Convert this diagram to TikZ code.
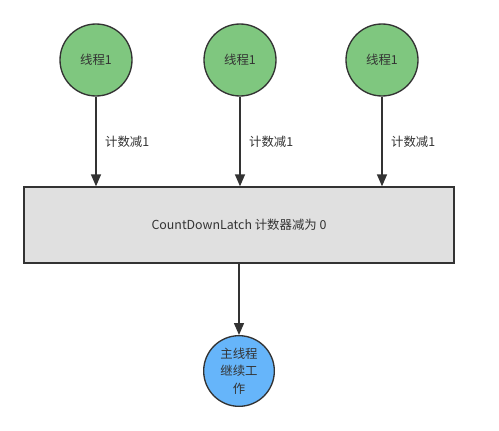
\documentclass[tikz,border=0pt]{standalone}
\usepackage{fontspec}
\setmainfont{Noto Sans CJK SC}
\usetikzlibrary{arrows.meta}
\definecolor{threadgreen}{HTML}{7FC77F}
\definecolor{mainblue}{HTML}{66B5FA}
\definecolor{latchgray}{HTML}{E0E0E0}
\definecolor{linegray}{HTML}{333333}

\begin{document}
\begin{tikzpicture}[x=0.75pt, y=-0.75pt, font=\fontsize{9.3}{13}\selectfont, >={Triangle[length=9pt,width=7.5pt]},
    thread/.style={circle, draw=linegray, line width=1pt, fill=threadgreen, minimum size=54pt, inner sep=0pt, text=black!80},
    latch/.style={draw=linegray, line width=1pt, fill=latchgray, minimum width=322.5pt, minimum height=57pt, text=black!80},
    mainthread/.style={circle, draw=linegray, line width=1pt, fill=mainblue, minimum size=53pt, inner sep=0pt, align=center, text=black!80},
    flow/.style={->, draw=linegray, line width=1.1pt}]
    \useasboundingbox (0,0) rectangle (499,431);
    \node[thread] (t1) at (96,60) {线程1};
    \node[thread] (t2) at (240,60) {线程1};
    \node[thread] (t3) at (382,60) {线程1};
    \node[latch] (latch) at (239,225) {CountDownLatch 计数器减为 0};
    \node[mainthread] (main) at (239,371) {主线程\\继续工\\作};
    % arrows from the threads down to the latch
    \foreach \t in {t1, t2, t3} {
      \coordinate (end-\t) at (\t |- latch.north);
      \draw[flow] (\t) -- node[right=3pt, text=black!80] {计数减1} (end-\t);
    }
    \draw[flow] (latch) -- (main);
  \end{tikzpicture}
\end{document}
